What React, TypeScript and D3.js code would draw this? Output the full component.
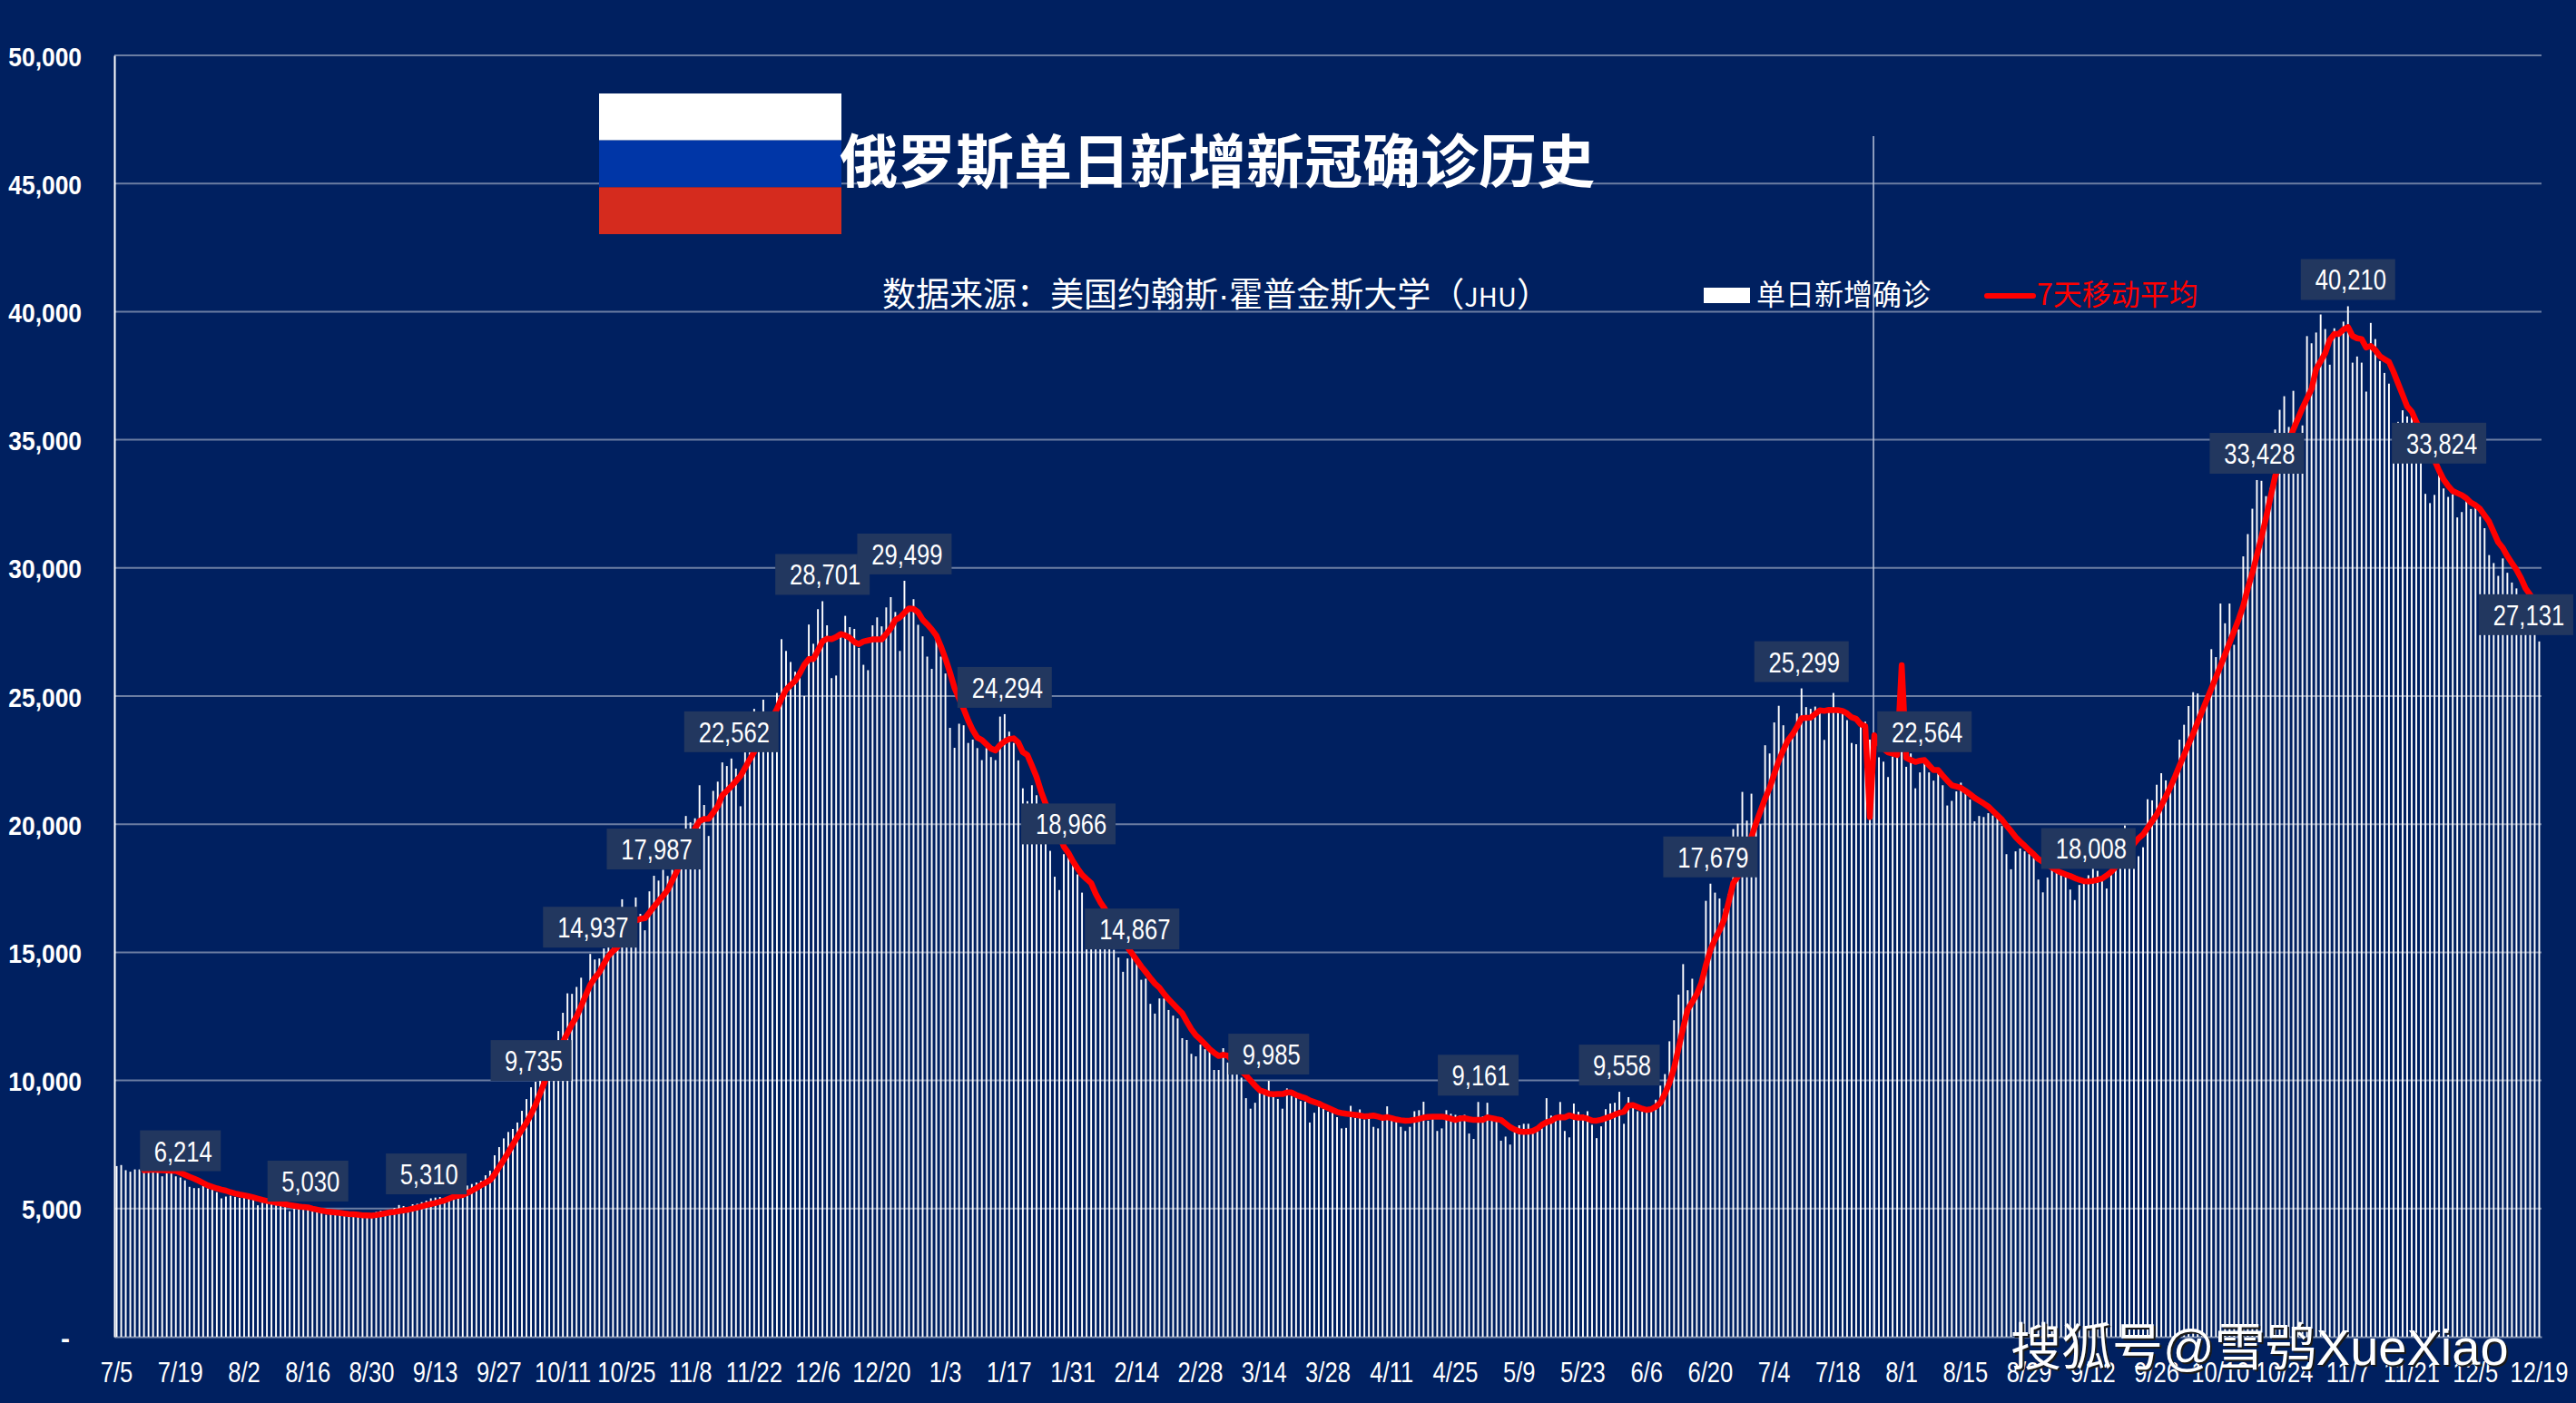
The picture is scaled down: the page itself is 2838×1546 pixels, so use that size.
import React, { useEffect, useRef } from "react";
import * as d3 from "d3";

// one row = 14 days, starts 7/5
const dailyCases: number[] = [
  6660,6700,6500,6440,6530,6530,6500,6480,6500,6520,6260,6380,6400,6260,
  6214,6100,5850,5800,5800,5880,5790,5790,5640,5400,5470,5500,5460,5420,
  5510,5490,5400,5130,5230,5310,5320,5250,5210,5230,4900,5150,5130,5100,
  5030,5030,5000,4980,4760,4810,4850,4830,4800,4790,4770,4730,4720,4700,
  4790,4870,4920,4900,4950,5020,5140,5100,5060,5170,5190,5250,5310,5400,
  5430,5450,5400,5450,5570,5620,5680,5900,5960,6020,6090,6300,6480,7080,
  7400,7740,7990,8110,8360,8815,9275,9735,9950,10300,10500,10900,11300,11930,
  12640,13400,13380,13650,14010,13490,14937,14720,14760,15150,15200,15500,15700,17070,
  16000,16300,17140,16500,15860,17380,17987,17800,18220,17980,18220,18500,18700,20320,
  20070,20230,21520,20750,19540,21300,21660,22410,22270,22562,22170,20700,22800,22800,
  24500,23300,24860,23000,23500,25120,27220,26760,26330,25950,26060,25000,27790,27040,
  28390,28701,27760,25700,25800,27500,28130,27690,27620,26880,26220,26010,27760,28070,
  27720,28460,28860,28280,26760,29499,28490,28780,27780,27330,26540,26060,27240,26540,
  25880,23760,22980,23920,23860,23170,23300,22970,22500,22970,22620,22500,24200,24294,
  23610,23170,22490,21400,20900,21520,21130,20300,19800,18960,17950,17430,18830,18966,
  18630,18040,17330,16400,16000,15700,15400,15300,15200,15100,14800,14240,14760,14867,
  14620,13930,13970,12990,12610,13200,13200,12750,12530,12420,11650,11580,11040,10940,
  11400,11220,11180,10410,10410,11260,10700,10230,10230,10110,9310,8900,9130,9630,
  9490,9985,9370,9280,8900,9690,9400,9400,9200,9170,8360,8740,8980,8900,
  8780,8740,8570,8130,8150,9010,8540,8870,8480,8540,8190,8130,8430,8990,
  8600,8430,8190,8030,8190,8800,8840,9170,8430,8490,8030,8130,8840,8700,
  8660,8630,8660,7930,7720,9161,8600,9130,8580,8390,7650,7810,7500,8070,
  8250,8310,8310,8000,8000,8130,9310,8630,8540,9160,8030,7780,9100,8780,
  8660,8800,8270,7750,8210,8880,9100,9130,9558,8310,9350,8970,8800,8780,
  8750,8800,9250,9800,10250,11530,12350,13350,14540,13520,13970,13300,13620,17010,
  17679,17330,17100,16700,17270,19810,20020,21260,20140,21190,20000,20000,23080,22760,
  23970,24620,23860,23120,23470,24320,25299,24570,24500,24590,24500,23290,24530,25120,
  24470,24400,24060,23170,23120,23930,24000,23300,23000,22610,22440,21840,22640,22700,
  22830,22240,22760,21400,22020,22564,22020,21700,21990,21520,20730,20910,21280,21620,
  21230,20960,20110,20320,20280,20430,20340,20250,19930,18830,18240,18940,19050,18940,
  18840,18690,17840,17340,17920,18280,18220,18040,17980,17450,17040,17630,17810,18008,
  18280,18180,17810,17490,18200,18500,18300,19950,18800,18400,18750,19100,20975,20930,
  21540,21990,21710,21400,21820,23300,23880,24610,25150,25100,24440,24900,26830,26520,
  28610,27840,28610,27000,27600,30450,31320,32310,33428,33400,32800,33120,35400,36170,
  36700,35500,36910,35200,35560,39045,38765,39185,39890,39320,37930,39350,39100,39610,
  40210,38010,38250,38010,36880,39560,38930,38070,37610,37190,35500,35700,36150,35910,
  35880,35790,34500,32890,32530,32850,33824,33100,32770,32870,31970,32180,32690,32300,
  32360,32000,31550,30500,30190,29690,30370,29810,29430,29200,28600,28500,28200,27900,
  27131,
];

// the average starts on day 7 (7/11)
const movingAverageStart = 6;
const movingAverage: number[] = [
  6500,6510,6520,6510,6500,6490,6480,6470,
  6400,6320,6240,6170,6090,6000,5910,5850,5790,5740,5700,5640,5590,5550,
  5520,5480,5440,5390,5340,5300,5270,5230,5200,5170,5140,5110,5080,5060,
  5050,5000,4960,4920,4890,4870,4850,4830,4810,4790,4780,4760,4740,4735,
  4730,4750,4780,4815,4850,4870,4900,4930,4960,5000,5040,5090,5140,5180,
  5220,5270,5320,5390,5460,5500,5530,5610,5700,5800,5910,6010,6110,6340,
  6620,6900,7190,7500,7800,8080,8350,8680,9050,9500,9950,10350,10750,11130,
  11500,11850,12200,12490,12900,13320,13730,14000,14220,14560,14860,15050,15210,15470,
  15740,16010,16240,16310,16330,16550,16780,17000,17210,17430,17800,18150,18580,19000,
  19420,19830,20120,20200,20210,20450,20700,21130,21300,21480,21680,21880,22200,22520,
  22820,23120,23460,23800,24150,24500,24900,25250,25430,25590,25880,26220,26440,26440,
  26780,27130,27240,27220,27300,27420,27370,27270,27110,27030,27130,27170,27210,27210,
  27210,27420,27650,27970,28070,28250,28420,28400,28270,27980,27800,27600,27360,26940,
  26460,25920,25320,24900,24500,24050,23670,23380,23290,23120,22950,22880,23090,23230,
  23320,23350,23190,22810,22700,22280,21850,21280,20800,20430,20000,19580,19130,18880,
  18550,18280,18030,17860,17700,17290,16960,16700,16400,16050,15700,15380,15200,14950,
  14700,14450,14230,14000,13780,13620,13380,13170,12990,12800,12620,12300,12000,11760,
  11600,11420,11230,11080,10960,11000,10970,10780,10560,10370,10200,10000,9800,9620,
  9560,9480,9460,9470,9470,9530,9530,9440,9370,9320,9220,9160,9100,9010,
  8930,8850,8770,8730,8700,8680,8660,8630,8600,8610,8630,8590,8540,8570,
  8530,8480,8450,8430,8440,8460,8500,8550,8580,8590,8590,8590,8560,8510,
  8460,8520,8530,8490,8460,8460,8460,8560,8530,8490,8460,8320,8180,8090,
  8010,7995,8000,8030,8120,8270,8370,8420,8540,8570,8560,8640,8580,8550,
  8560,8510,8440,8430,8470,8530,8590,8670,8740,8780,9020,9040,8970,8900,
  8850,8880,8980,9130,9480,9910,10480,11260,12050,12770,13060,13360,13800,14500,
  15100,15510,15860,16270,16960,17700,17950,18420,18950,19500,20030,20520,21000,21420,
  21950,22470,22890,23270,23500,23800,24130,24150,24160,24300,24440,24420,24460,24450,
  24450,24420,24320,24170,24110,23900,23820,20280,23470,23150,22950,22800,22760,22700,
  26200,22590,22500,22430,22480,22500,22300,22110,22110,21900,21700,21520,21470,21420,
  21300,21170,21030,20920,20810,20690,20520,20350,20180,19950,19730,19500,19320,19160,
  18980,18820,18640,18530,18420,18310,18200,18110,18040,17980,17900,17830,17780,17770,
  17790,17830,17880,18000,18140,18330,18530,18730,18950,19240,19450,19600,19860,20120,
  20370,20720,21080,21450,21850,22280,22700,23120,23530,23980,24420,24860,25290,25730,
  26170,26620,27080,27530,28000,28520,29200,29800,30500,31200,31950,32770,33570,34050,
  34500,34950,35400,35820,36240,36610,36980,37750,38060,38380,38900,39130,39130,39300,
  39400,39050,38960,38930,38600,38660,38500,38260,38150,38040,37650,37200,36750,36300,
  36100,35700,35350,34950,34560,34200,33800,33450,33200,33000,32920,32840,32720,32550,
  32450,32300,32050,31800,31400,31000,30780,30460,30190,29930,29600,29200,28950,28700,
  28430,
];

const xTickLabels = [
  "7/5","7/19","8/2","8/16","8/30","9/13","9/27","10/11","10/25","11/8","11/22","12/6","12/20",
  "1/3","1/17","1/31","2/14","2/28","3/14","3/28","4/11","4/25","5/9","5/23","6/6","6/20",
  "7/4","7/18","8/1","8/15","8/29","9/12","9/26","10/10","10/24","11/7","11/21","12/5","12/19",
];
const yTicks = [0, 5000, 10000, 15000, 20000, 25000, 30000, 35000, 40000, 45000, 50000];

// bars that carry a value label
const labelledDays = [
  14, 42, 68, 91, 104, 118, 135, 155, 173, 195, 209, 223, 253, 299, 330, 350, 370, 397, 433, 470, 490, 510, 532,
];

const flagColors = ["#ffffff", "#0036a7", "#d52b1e"];

const BG = "#002060";
const WIDTH = 2838;
const HEIGHT = 1546;
const LEFT = 126;
const RIGHT = 2800;
const TOP = 61;
const BOTTOM = 1473;
const LATIN = '"Liberation Sans", Arial, sans-serif';
const CJK = '"Noto Sans CJK SC", "Liberation Sans", sans-serif';

const App = () => {
  const svgRef = useRef<SVGSVGElement | null>(null);

  useEffect(() => {
    if (!svgRef.current) return;
    const svg = d3.select(svgRef.current);
    svg.selectAll("*").remove();

    const days = dailyCases.map((_, i) => i);
    const x = d3.scaleBand<number>().domain(days).range([LEFT, RIGHT]).paddingInner(0.62).paddingOuter(0.31);
    const y = d3.scaleLinear().domain([0, 50000]).range([BOTTOM, TOP]);
    const cx = (i: number) => (x(i) as number) + x.bandwidth() / 2;

    // gridlines
    svg.append("g")
      .selectAll("line")
      .data(yTicks.slice(1))
      .enter()
      .append("line")
      .attr("x1", LEFT)
      .attr("x2", RIGHT)
      .attr("y1", (d) => y(d))
      .attr("y2", (d) => y(d))
      .attr("stroke", "#fff")
      .attr("stroke-opacity", 0.42)
      .attr("stroke-width", 2);

    // daily bars
    svg.append("g")
      .selectAll("rect")
      .data(dailyCases)
      .enter()
      .append("rect")
      .attr("x", (_, i) => x(i) as number)
      .attr("width", x.bandwidth())
      .attr("y", (d) => y(d))
      .attr("height", (d) => BOTTOM - y(d))
      .attr("fill", "#fff");

    // thin marker line
    const markerX = cx(386) - 1;
    svg.append("line")
      .attr("x1", markerX)
      .attr("x2", markerX)
      .attr("y1", 150)
      .attr("y2", BOTTOM)
      .attr("stroke", "#b9c5dc")
      .attr("stroke-width", 1.5);

    // 7 day average
    const line = d3
      .line<number>()
      .x((_, i) => cx(i + movingAverageStart))
      .y((d) => y(d));
    svg.append("path")
      .attr("d", line(movingAverage))
      .attr("fill", "none")
      .attr("stroke", "#ff0000")
      .attr("stroke-width", 6.5)
      .attr("stroke-linejoin", "round")
      .attr("stroke-linecap", "round");

    // value labels
    const fmt = d3.format(",");
    const labels = svg.append("g")
      .selectAll("g")
      .data(labelledDays)
      .enter()
      .append("g")
      .attr("transform", (d) => {
        const shift = d === 532 ? -14.5 : 0;
        return `translate(${cx(d) + shift},${y(dailyCases[d]) - 29.5})`;
      });
    labels.append("rect")
      .attr("x", (d) => (dailyCases[d] < 10000 ? -44.5 : -52))
      .attr("width", (d) => (dailyCases[d] < 10000 ? 89 : 104))
      .attr("y", -22.5)
      .attr("height", 45)
      .attr("fill", "#22375f");
    labels.append("text")
      .attr("transform", "translate(3,0) scale(0.8,1)")
      .attr("y", 11.5)
      .attr("text-anchor", "middle")
      .attr("font-family", LATIN)
      .attr("font-size", 32)
      .attr("fill", "#fff")
      .text((d) => fmt(dailyCases[d]));

    // axes
    const yAxis = d3
      .axisLeft(y)
      .tickValues(yTicks)
      .tickSize(0)
      .tickFormat((d) => (+d === 0 ? "-" : fmt(+d)));
    const yG = svg.append("g").attr("transform", `translate(${LEFT},0)`).call(yAxis);
    yG.select(".domain").attr("stroke", "#fff").attr("stroke-width", 2);
    yG.selectAll<SVGTextElement, number>("text")
      .attr("x", 0)
      .attr("dy", "11px")
      .attr("transform", (d) => (+d === 0 ? "translate(-49,0)" : "translate(-36,0) scale(0.88,1)"))
      .attr("font-family", LATIN)
      .attr("font-size", 30)
      .attr("font-weight", "bold")
      .attr("fill", "#fff");

    const xAxis = d3
      .axisBottom(x)
      .tickValues(xTickLabels.map((_, i) => i * 14))
      .tickSize(0)
      .tickFormat((d) => xTickLabels[+d / 14]);
    const xG = svg.append("g").attr("transform", `translate(0,${BOTTOM})`).call(xAxis);
    xG.select(".domain").attr("stroke", "#fff").attr("stroke-opacity", 0.5).attr("stroke-width", 2);
    xG.selectAll("text")
      .attr("y", 50)
      .attr("dy", 0)
      .attr("transform", "scale(0.8,1)")
      .attr("font-family", LATIN)
      .attr("font-size", 32)
      .attr("fill", "#fff");

    // flag
    svg.append("g")
      .selectAll("rect")
      .data(flagColors)
      .enter()
      .append("rect")
      .attr("x", 660)
      .attr("y", (_, i) => 103 + i * 51.67)
      .attr("width", 267)
      .attr("height", 51.67)
      .attr("fill", (d) => d);

    svg.append("text")
      .attr("x", 925)
      .attr("y", 201)
      .attr("font-family", CJK)
      .attr("font-size", 64)
      .attr("font-weight", "bold")
      .attr("fill", "#fff")
      .text("俄罗斯单日新增新冠确诊历史");

    const source = svg.append("text")
      .attr("x", 972)
      .attr("y", 338)
      .attr("font-family", CJK)
      .attr("font-size", 37)
      .attr("fill", "#fff");
    source.append("tspan").text("数据来源：美国约翰斯");
    source.append("tspan").attr("font-family", LATIN).text("·");
    source.append("tspan").text("霍普金斯大学（");
    source.append("tspan").attr("font-size", 29).text("JHU");
    source.append("tspan").text("）");

    // legend
    svg.append("rect").attr("x", 1877).attr("y", 317).attr("width", 51).attr("height", 17).attr("fill", "#fff");
    svg.append("text")
      .attr("x", 1935)
      .attr("y", 336)
      .attr("font-family", CJK)
      .attr("font-size", 32)
      .attr("fill", "#fff")
      .text("单日新增确诊");
    svg.append("line")
      .attr("x1", 2189)
      .attr("x2", 2240)
      .attr("y1", 326)
      .attr("y2", 326)
      .attr("stroke", "#ff0000")
      .attr("stroke-width", 6)
      .attr("stroke-linecap", "round");
    svg.append("text")
      .attr("x", 2244)
      .attr("y", 336)
      .attr("font-family", CJK)
      .attr("font-size", 32)
      .attr("fill", "#ff0000")
      .text("7天移动平均");

    // watermark
    svg.append("text")
      .attr("x", 2215)
      .attr("y", 1504)
      .attr("font-family", LATIN + ', "Noto Sans CJK SC"')
      .attr("font-size", 56)
      .attr("fill", "#fff")
      .style("filter", "drop-shadow(2px 2px 0 #1a1a1a)")
      .text("搜狐号@雪鸮XueXiao");
  }, []);

  return (
    <svg
      ref={svgRef}
      width={WIDTH}
      height={HEIGHT}
      style={{ position: "absolute", left: 0, top: 0, background: BG, display: "block" }}
    />
  );
};

export default App;
